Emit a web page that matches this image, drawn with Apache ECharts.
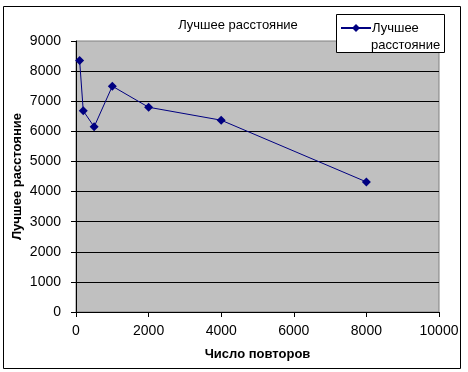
<!DOCTYPE html>
<html>
<head>
<meta charset="utf-8">
<style>
html,body{margin:0;padding:0;background:#fff;}
#c{width:468px;height:372px;}
</style>
<script src="https://cdn.jsdelivr.net/npm/echarts@6/dist/echarts.min.js"></script>
</head>
<body>
<div id="c"></div>
<script>
var titleText = 'Лучшее расстояние';
var seriesName = 'Лучшее расстояние';
var legendLine1 = 'Лучшее';
var legendLine2 = 'расстояние';
var xName = 'Число повторов';
var yName = 'Лучшее расстояние';
var xValues = [100, 200, 500, 1000, 2000, 4000, 8000];
var yValues = [8350, 6680, 6150, 7500, 6800, 6370, 4320];

var data = xValues.map(function (x, i) { return [x, yValues[i]]; });
var font = '"Liberation Sans", Arial, sans-serif';
var chart = echarts.init(document.getElementById('c'));
chart.setOption({
  animation: false,
  backgroundColor: '#ffffff',
  title: {
    text: titleText, left: 233, top: 14, textAlign: 'center',
    textStyle: { fontFamily: font, fontSize: 13, fontWeight: 'normal', color: '#000' }
  },
  legend: {
    left: 340, top: 19, padding: 0, itemGap: 0,
    itemWidth: 30, itemHeight: 10,
    formatter: function () { return legendLine1; },
    textStyle: { fontFamily: font, fontSize: 13, color: '#000', lineHeight: 18, padding: [0, 0, 0, -4] }
  },
  graphic: [
    { type: 'rect', shape: { x: 3.5, y: 6.5, width: 457, height: 362 }, style: { fill: 'none', stroke: '#000', lineWidth: 1 }, z: -1 },
    { type: 'rect', shape: { x: 336.5, y: 14.5, width: 108, height: 38 }, style: { fill: '#fff', stroke: '#000', lineWidth: 1 }, z: 1 },
    { type: 'text', left: 371, top: 39, z: 5, style: { text: legendLine2, font: '13px "Liberation Sans", Arial, sans-serif', fill: '#000' } }
  ],
  grid: {
    left: 76, right: 29, top: 41, bottom: 60, outerBoundsMode: 'none', containLabel: false,
    show: true, backgroundColor: '#c0c0c0', borderColor: '#808080', borderWidth: 1
  },
  xAxis: {
    type: 'value', min: 0, max: 10000, interval: 2000,
    name: xName, nameLocation: 'middle', nameGap: 36, nameMoveOverlap: false,
    nameTextStyle: { fontFamily: font, fontSize: 13, fontWeight: 'bold', color: '#000' },
    axisLine: { show: true, lineStyle: { color: '#000', width: 1 } },
    axisTick: { show: true, length: 5, lineStyle: { color: '#000' } },
    axisLabel: { margin: 12, fontFamily: font, fontSize: 14, color: '#000', formatter: function (v) { return String(v); } },
    splitLine: { show: false }
  },
  yAxis: {
    type: 'value', min: 0, max: 9000, interval: 1000,
    name: yName, nameLocation: 'middle', nameGap: 52, nameMoveOverlap: false,
    nameTextStyle: { fontFamily: font, fontSize: 13, fontWeight: 'bold', color: '#000' },
    axisLine: { show: true, lineStyle: { color: '#000', width: 1 } },
    axisTick: { show: true, length: 5, lineStyle: { color: '#000' } },
    axisLabel: { margin: 15, fontFamily: font, fontSize: 14, color: '#000', formatter: function (v) { return String(v); } },
    splitLine: { show: true, showMaxLine: false, lineStyle: { color: '#000', width: 1 } }
  },
  series: [{
    name: seriesName, type: 'line', data: data,
    symbol: 'diamond', symbolSize: 9,
    lineStyle: { color: '#000080', width: 1 },
    itemStyle: { color: '#000080' },
    z: 3
  }]
});
</script>
</body>
</html>
